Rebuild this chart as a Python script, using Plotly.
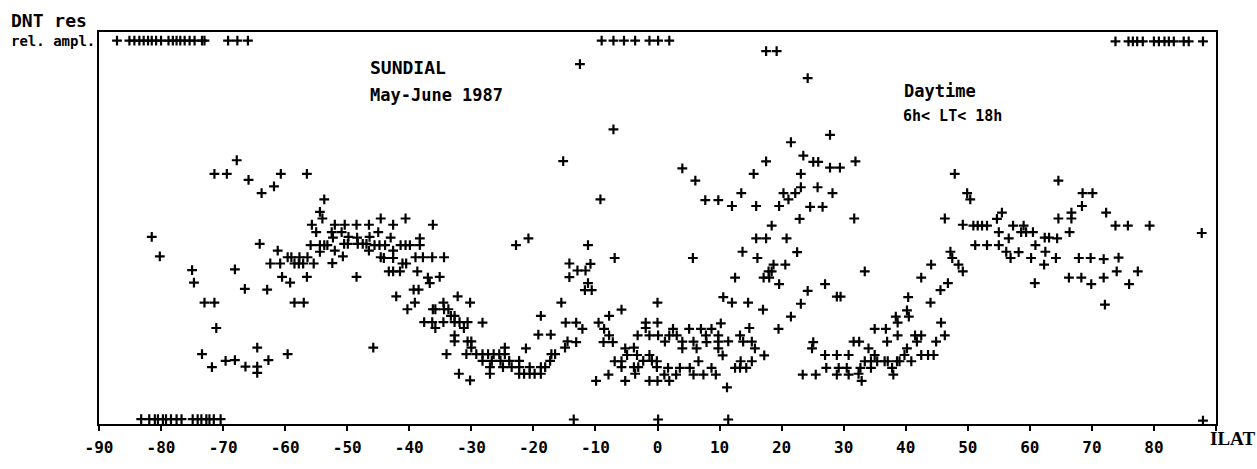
import plotly.graph_objects as go

# Saturated (clipped at the top of the frame) measurements
top_lat = [-87.1, -85.1, -84.3, -83.5, -82.8, -82.1, -81.5, -80.8, -80.0, -78.8, -78.1,
           -77.5, -76.9, -76.2, -75.4, -74.6, -73.4, -73.0, -69.2, -67.7, -66.0,
           -9.0, -7.1, -5.4, -3.6, -1.3, 0.1, 1.9,
           73.8, 75.9, 76.6, 77.3, 78.2, 80.0, 80.8, 81.7, 82.4, 83.2, 84.8, 85.6, 87.9]
top_amp = [97.8] * 28 + [97.6] * 13

# Measurements sitting on the floor of the plot
floor_lat = [-83.2, -81.9, -81.0, -80.5, -79.7, -79.2, -78.4, -77.5, -76.7, -74.9, -74.1,
             -73.5, -72.7, -72.2, -71.5, -70.4, -13.5, 0.1, 11.4, 87.9]
floor_amp = [1.0] * 16 + [0.9, 0.9, 0.9, 0.6]

# Southern latitudes
south_lat = [-71.4, -69.4, -67.8, -65.9, -63.8, -61.8, -60.7, -56.5, -53.7, -54.4, -54.0, -55.7, -52.0, -50.4, -48.5, -46.5, -44.6, -42.6, -40.6, -36.2,
             -81.5, -80.2, -75.0, -74.7, -73.0, -71.4, -71.1, -73.4, -71.8, -69.6, -68.1, -66.4, -64.5, -64.5, -64.5, -62.7, -59.6,
             -68.1, -66.5, -64.1, -62.9, -62.4, -60.8, -61.2, -60.5, -59.6, -59.0, -59.2, -58.5, -57.8, -57.1, -57.7, -56.4, -58.5, -57.0, -56.5, -55.4,
             -55.9, -54.4, -53.7, -53.2, -54.4, -55.0, -52.5, -50.9, -52.3, -52.0, -52.4, -50.7, -50.5, -49.9, -49.8, -48.4, -48.5, -48.3, -47.5, -46.9, -46.5, -46.4,
             -45.6, -44.8, -43.9, -45.0, -44.6, -44.1, -43.0, -42.6, -42.6, -43.3, -42.6, -41.5, -41.4, -40.6, -39.9, -38.3, -38.3, -41.1, -40.5,
             -39.0, -37.8, -36.3, -34.4, -38.7, -37.0, -36.7, -35.1, -42.1, -39.3, -38.5, -40.3, -39.1, -36.2, -35.8, -34.5, -34.4, -33.7, -32.2, -30.2,
             -37.6, -36.3, -34.5, -35.8, -33.3, -32.7, -32.7, -31.9, -30.6, -31.2, -32.7, -32.7, -30.6, -30.0, -30.0, -34.0, -30.8, -45.8, -32.0, -30.2]
south_amp = [63.7, 63.7, 67.2, 62.2, 58.8, 60.5, 63.7, 63.7, 57.2, 54.0, 52.3, 50.7, 50.7, 50.7, 50.7, 50.7, 52.3, 50.7, 52.3, 50.7,
             47.6, 42.6, 39.1, 35.9, 30.8, 30.8, 24.3, 17.6, 14.3, 15.9, 16.1, 14.4, 14.4, 12.8, 19.3, 16.1, 17.6,
             39.3, 34.3, 45.8, 34.1, 40.8, 40.8, 44.1, 37.4, 42.4, 42.4, 35.9, 40.8, 40.8, 40.8, 42.4, 42.4, 30.8, 30.8, 37.4, 40.8,
             45.5, 45.5, 45.5, 45.5, 43.8, 48.8, 48.8, 48.8, 47.4, 44.1, 40.9, 42.6, 45.8, 45.8, 47.6, 47.4, 37.4, 45.8, 45.8, 45.8, 44.1, 47.6,
             45.5, 45.5, 45.5, 48.8, 42.4, 42.2, 47.4, 44.1, 42.2, 38.8, 38.8, 38.8, 45.5, 45.5, 45.5, 47.2, 45.5, 40.8, 40.8,
             42.4, 42.4, 42.4, 42.4, 38.8, 37.2, 35.8, 37.4, 32.4, 34.1, 34.1, 29.1, 30.8, 29.1, 29.1, 30.8, 29.1, 29.1, 32.4, 30.8,
             25.8, 25.8, 25.8, 24.3, 27.4, 27.4, 25.8, 25.8, 25.8, 24.3, 22.4, 20.9, 20.9, 20.9, 19.3, 17.6, 17.6, 19.3, 12.6, 10.9]

# Equatorial band
equator_lat = [-22.8, -20.8, -11.2, -14.2, -14.2, -12.9, -11.6, -10.8, -11.2, -11.7, -10.6, -6.9, -15.5, -28.2, -18.8, -19.2, -17.2, -21.2, -14.8, -13.1, -12.1, -14.5, -13.1, -14.9,
               -29.2, -28.2, -27.3, -26.4, -25.5, -24.6, -24.6, -28.2, -26.7, -25.3, -23.9, -22.3, -27.0, -27.0, -24.9, -23.5, -22.3, -20.6, -18.8, -18.1, -22.3, -21.5, -20.6, -19.8, -18.8, -17.3, -17.1, -16.5,
               -9.5, -8.6, -7.8, -5.8, -7.8, -8.7, -7.2, -9.9, -7.9, -5.2, -3.8, -4.9, -3.3, -1.3, -6.9, -5.8, -5.8, -3.8, -3.1, -3.6, -2.3, -0.9, -0.1, -0.1, -5.2, -1.3, 0.0, 1.9,
               1.1, 3.0, 1.7, 3.6, 5.2, 6.6, 5.8, 7.4, 9.4, 8.7, -3.2, -1.9, -1.9, -1.3, 0.1, 0.0, 0.0, 1.2, 1.9, 2.5, 3.1, 4.0, 4.0, 5.1, 5.8, 6.3, 7.0, 8.7, 7.8, 7.9, 9.8, 9.8, 9.8, 10.5, 10.2,
               5.7, 10.6, 12.0, 11.4, 11.2, 13.3, 13.8, 14.8, 15.2, 15.7, 17.2, 13.4, 15.2, 12.5, 13.3, 14.3, 14.6, 17.0, 12.5, 13.7,
               15.9, 17.5, 20.8, 16.1, 18.7, 17.9, 18.4, 17.1, 18.0, 20.6, 19.6, 22.5, 24.2, 27.0, 28.9, 29.5, 23.1, 21.5, 19.5, 25.1, 24.9, 27.0, 28.9, 27.2, 29.2, 28.9, 23.4, 25.5,
               -7.1, -15.2, 27.8, 21.5, 23.5, 17.5, 25.1, 25.9, 27.8, 29.4, 4.0, 15.5, 23.1, 6.1, 25.8, 23.1, 13.5, 20.3, 22.2, 28.2, 21.1, -9.2, 7.7, 9.8, 12.0, 15.9, 19.6, 24.6, 26.6, 22.9, 18.4,
               17.5, 19.2, -12.5, 24.2]
equator_amp = [45.5, 47.2, 45.5, 40.8, 37.3, 39.0, 39.0, 40.7, 35.8, 34.0, 34.0, 42.2, 30.8, 25.7, 27.4, 22.6, 22.6, 19.1, 25.7, 25.7, 24.1, 20.9, 20.7, 19.3,
               17.6, 17.6, 17.6, 17.6, 17.6, 17.6, 19.3, 15.9, 15.9, 15.9, 15.9, 15.9, 14.3, 12.6, 14.3, 14.3, 14.3, 14.3, 14.3, 14.3, 12.6, 12.6, 12.6, 12.6, 12.6, 15.9, 17.6, 17.6,
               25.7, 24.1, 27.4, 29.0, 22.4, 20.7, 20.7, 10.8, 12.4, 19.1, 19.3, 17.4, 17.4, 17.4, 15.8, 15.8, 14.3, 14.3, 14.3, 12.6, 15.9, 15.9, 15.8, 14.3, 10.8, 10.8, 10.8, 10.8,
               12.4, 12.4, 14.1, 14.1, 14.1, 15.8, 12.4, 12.4, 12.4, 14.1, 22.4, 25.7, 24.3, 22.4, 22.4, 25.7, 30.8, 20.8, 22.4, 24.1, 22.4, 20.8, 19.1, 24.1, 20.8, 19.1, 24.1, 24.1, 22.4, 20.7, 22.4, 20.8, 19.1, 17.3, 25.5,
               42.2, 32.2, 30.8, 20.9, 9.1, 22.4, 20.8, 24.3, 20.8, 19.1, 17.3, 15.8, 15.8, 14.1, 14.1, 14.1, 30.8, 29.0, 37.2, 43.8,
               47.2, 47.2, 47.2, 42.2, 40.5, 38.8, 38.8, 37.2, 37.2, 40.5, 35.5, 43.7, 33.8, 35.5, 32.3, 32.3, 30.5, 27.2, 24.1, 20.7, 19.1, 17.4, 17.4, 14.1, 14.1, 12.4, 12.4, 12.4,
               75.1, 67.0, 73.7, 71.8, 68.4, 66.9, 66.8, 66.8, 65.3, 65.3, 65.1, 63.7, 63.7, 62.0, 60.3, 60.3, 58.8, 58.8, 58.8, 58.8, 57.2, 57.2, 57.0, 57.0, 55.5, 55.5, 55.5, 55.3, 55.3, 52.2, 50.5,
               95.1, 95.1, 91.8, 88.2]

# Northern latitudes
north_lat = [30.8, 30.5, 30.8,
             31.9, 31.7, 47.9, 49.9, 50.4, 46.3, 49.2, 50.9, 51.6, 52.3, 53.1, 54.7, 55.5, 57.3, 59.0, 64.6, 64.6, 66.7, 66.7, 68.4, 68.5, 70.1, 72.3, 73.8, 75.8, 79.3,
             55.0, 56.6, 58.6, 59.4, 60.5, 62.4, 63.1, 64.4, 66.4, 87.7, 51.2, 53.1, 55.0, 60.9, 56.2, 56.9, 58.2, 60.2, 62.5, 62.3, 64.2, 67.9, 69.8, 71.9, 74.3, 74.0, 77.4,
             66.3, 68.3, 69.9, 71.9, 76.0, 72.1, 60.8, 47.2, 47.5, 48.5, 49.2, 44.1, 42.5, 46.8, 45.6, 44.0, 33.4, 40.4, 40.2, 40.5, 38.4, 38.7, 45.7, 46.3, 44.9,
             41.5, 42.5, 41.8, 40.2, 39.8, 42.5, 43.6, 44.5, 40.9, 38.6, 39.0, 35.0, 36.8, 38.7, 37.0, 31.6, 32.5, 34.0, 35.0, 33.4, 34.4, 35.4, 36.6, 37.1,
             34.4, 32.7, 37.8, 38.0, 32.4, 32.9]
north_amp = [17.4, 14.1, 12.4,
             66.9, 52.3, 63.7, 58.8, 57.2, 52.3, 50.7, 50.5, 50.5, 50.5, 50.5, 52.2, 53.8, 50.5, 50.5, 62.0, 52.3, 53.8, 52.3, 55.5, 58.8, 58.8, 53.8, 50.5, 50.5, 50.5,
             48.8, 47.2, 48.8, 48.8, 48.8, 47.4, 47.4, 47.2, 48.8, 48.6, 45.5, 45.5, 45.5, 45.5, 43.8, 42.2, 43.7, 42.2, 43.8, 40.5, 42.2, 42.2, 42.2, 41.9, 42.3, 38.8, 38.8,
             37.2, 37.2, 35.5, 37.2, 35.5, 30.3, 35.8, 43.8, 42.2, 40.5, 38.8, 40.5, 37.2, 35.8, 34.0, 30.8, 38.8, 32.2, 28.8, 27.2, 27.2, 25.7, 25.7, 22.4, 20.8,
             22.4, 22.4, 20.8, 19.1, 17.4, 17.4, 17.4, 17.4, 15.8, 15.8, 15.8, 24.1, 24.1, 22.4, 20.8, 20.8, 20.8, 19.1, 17.4, 15.8, 15.8, 15.8, 15.8, 15.8,
             14.1, 14.1, 14.1, 12.4, 12.6, 10.8]

tick_vals = [-90, -80, -70, -60, -50, -40, -30, -20, -10, 0, 10, 20, 30, 40, 50, 60, 70, 80, 90]
tick_text = ["-90", "-80", "-70", "-60", "-50", "-40", "-30", "-20", "-10", "0",
             "10", "20", "30", "40", "50", "60", "70", "80", ""]

MONO = "DejaVu Sans Mono"
cross = dict(symbol="cross-thin", size=7, color="black", line=dict(width=2.2, color="black"))

fig = go.Figure()
for lat, amp in [(top_lat, top_amp), (floor_lat, floor_amp), (south_lat, south_amp),
                 (equator_lat, equator_amp), (north_lat, north_amp)]:
    fig.add_trace(go.Scatter(x=lat, y=amp, mode="markers", marker=cross,
                             showlegend=False, hoverinfo="x+y"))

fig.update_layout(
    width=1257, height=469,
    margin=dict(l=99, r=41, t=32, b=36),
    paper_bgcolor="white", plot_bgcolor="white",
    font=dict(family=MONO, color="black"),
    xaxis=dict(range=[-90, 90], tickvals=tick_vals, ticktext=tick_text,
               ticks="outside", ticklen=5, tickwidth=1.5, tickcolor="black",
               ticklabelstandoff=3,
               tickfont=dict(family=MONO, size=16, color="black", weight="bold"),
               showline=True, linewidth=2, linecolor="black", mirror=True,
               showgrid=False, zeroline=False),
    yaxis=dict(range=[-0.25, 100], showticklabels=False, ticks="",
               showline=True, linewidth=1.5, linecolor="black", mirror=True,
               showgrid=False, zeroline=False),
)

def label(text, x, y, size, ref="data", family=MONO):
    xr, yr = ("x", "y") if ref == "data" else ("paper", "paper")
    fig.add_annotation(text=text, xref=xr, yref=yr, x=x, y=y,
                       xanchor="left", yanchor="middle", showarrow=False,
                       font=dict(family=family, size=size, color="black", weight="bold"))

label("DNT res", -0.081, 1.03, 18, ref="paper")
label("rel. ampl.", -0.081, 0.977, 14, ref="paper")
label("SUNDIAL", -46.7, 90.8, 18)
label("May-June 1987", -46.7, 84.0, 17)
label("Daytime", 39.4, 84.8, 17)
label("6h< LT< 18h", 39.3, 78.5, 15)
label("ILAT", 0.993, -0.037, 19, ref="paper", family="Liberation Serif")

fig.write_html("out.html")
